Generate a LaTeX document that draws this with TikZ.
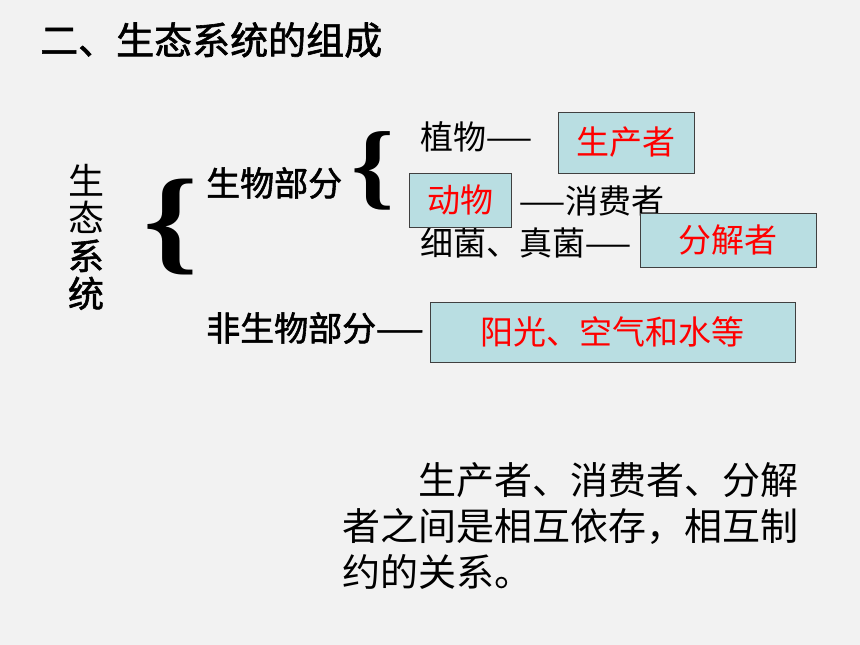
\documentclass[tikz,border=0pt]{standalone}
\usepackage{fontspec}
\usepackage{graphicx}
\newfontfamily\cjk{Noto Sans CJK SC}
\newfontfamily\cjkmid[FakeBold=1.6]{Noto Sans CJK SC}
\newfontfamily\bracefont{Liberation Serif}
\definecolor{boxfill}{HTML}{B9DEE2}
\definecolor{bggray}{HTML}{F2F2F2}
\newcommand{\twodash}{\scalebox{0.83}[1]{——}}

\begin{document}
\begin{tikzpicture}[x=1pt, y=-1pt,
	txt/.style={anchor=west, inner sep=0pt, font=\cjk\fontsize{33}{33}\selectfont},
	ans/.style={draw=black!75, line width=0.8pt, fill=boxfill, text=red, font=\cjk\fontsize{33}{33}\selectfont}]
		\fill[bggray] (0,0) rectangle (860,645);
		\useasboundingbox (0,0) rectangle (860,645);
		% title
		\node[anchor=west, inner sep=0pt, font=\cjkmid\fontsize{38}{38}\selectfont] (title) at (40,40) {二、生态系统的组成};
		% left part
		\node[inner sep=0pt, align=center, font=\cjk\fontsize{36}{37.6}\selectfont] (eco) at (86,237) {生\\态\\{\cjkmid 系}\\{\cjkmid 统}};
		\node[inner sep=0pt, font=\bracefont\bfseries\fontsize{116}{116}\selectfont] (bigbrace) at (171,227) {\scalebox{1.2}[1]{\{}};
		\node[txt, font=\cjkmid\fontsize{34}{34}\selectfont] (bio) at (206,183) {生物部分};
		\node[txt, font=\cjkmid\fontsize{34}{34}\selectfont] (abio) at (206,328) {非生物部分\twodash};
		\node[inner sep=0pt, font=\bracefont\bfseries\fontsize{95}{95}\selectfont] (smallbrace) at (373,171) {\scalebox{1.15}[1]{\{}};
		% organisms
		\node[txt] (plant) at (420,137) {植物\twodash};
		\node[txt] (consumer) at (519,201) {\twodash 消费者};
		\node[txt] (fungi) at (420,243) {细菌、真菌\twodash};
		% answer boxes
		\node[ans, minimum width=136, minimum height=61] (producer) at (626,142.5) {生产者};
		\node[ans, minimum width=102, minimum height=54] (animal) at (460,200) {动物};
		\node[ans, minimum width=176, minimum height=54] (decomposer) at (728,240) {分解者};
		\node[ans, minimum width=365, minimum height=60] (nonliving) at (612.5,332) {阳光、空气和水等};
		% summary
		\node[anchor=north west, inner sep=0pt, align=left, font=\cjk\fontsize{38}{46}\selectfont] (summary) at (342,462) {\hspace{76pt}生产者、消费者、分解\\者之间是相互依存，相互制\\约的关系。};
	\end{tikzpicture}
\end{document}
